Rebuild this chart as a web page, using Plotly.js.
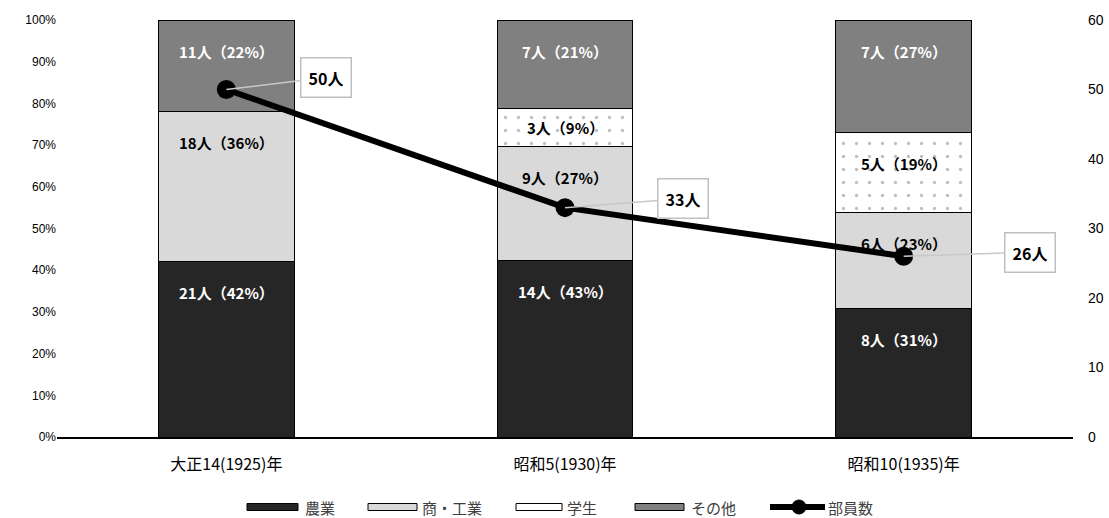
<!DOCTYPE html>
<html>
<head>
<meta charset="utf-8">
<script src="https://cdn.plot.ly/plotly-3.0.1.min.js"></script>
<style>html,body{margin:0;padding:0;background:#fff;}#chart{width:1109px;height:518px;}</style>
</head>
<body>
<div id="chart"></div>
<script>
const categories = ['大正14(1925)年', '昭和5(1930)年', '昭和10(1935)年'];
const seriesNames = ['農業', '商・工業', '学生', 'その他'];
const farming = [21, 14, 8];
const commerce = [18, 9, 6];
const students = [0, 3, 5];
const others = [11, 7, 7];
const farmingPctLabel = [42, 43, 31];
const commercePctLabel = [36, 27, 23];
const studentsPctLabel = [0, 9, 19];
const othersPctLabel = [22, 21, 27];
const members = [50, 33, 26];
const leftTicks = [0, 10, 20, 30, 40, 50, 60, 70, 80, 90, 100];
const rightTicks = [0, 10, 20, 30, 40, 50, 60];

const counts = [farming, commerce, students, others];
const pctLabels = [farmingPctLabel, commercePctLabel, studentsPctLabel, othersPctLabel];
const pct = counts.map(arr => arr.map((v, i) => v / members[i] * 100));
const fillColors = ['#262626', '#d9d9d9', '#ffffff', '#808080'];
const labelColors = ['#ffffff', '#000000', '#000000', '#ffffff'];
const CJK = 'Noto Sans CJK JP';

const M = {l: 57, r: 36, t: 20, b: 81};
const W = 1109, H = 518;
const pw = W - M.l - M.r, ph = H - M.t - M.b;
const px2x = px => (px - M.l) / pw;
const py2y = py => (H - M.b - py) / ph;

const traces = counts.map((arr, k) => {
  const marker = {color: fillColors[k], line: {color: '#000000', width: 1}};
  if (k === 2) {
    marker.pattern = {shape: '.', fgcolor: '#808080', bgcolor: '#ffffff', size: 13, solidity: 0.05, fillmode: 'overlay'};
  }
  return {
    type: 'bar', name: seriesNames[k], x: categories, y: pct[k],
    marker: marker, hoverinfo: 'skip', yaxis: 'y', showlegend: false
  };
});
traces.push({
  type: 'scatter', mode: 'lines+markers', name: '部員数', x: categories, y: members,
  yaxis: 'y2', line: {color: '#000000', width: 6}, marker: {color: '#000000', size: 19},
  hoverinfo: 'skip', showlegend: false
});

const annotations = [];
const shapes = [];
const pxPerPct = ph / 100;
categories.forEach((c, i) => {
  let cum = 0;
  counts.forEach((arr, k) => {
    const p = pct[k][i];
    cum += p;
    if (arr[i] === 0) return;
    const segPx = p * pxPerPct;
    const shift = -Math.min(31, segPx / 2);
    annotations.push({
      x: c, y: cum, xref: 'x', yref: 'y', yanchor: 'middle', yshift: shift,
      text: arr[i] + '人（' + pctLabels[k][i] + '%）', showarrow: false,
      font: {family: CJK, size: 15, color: labelColors[k], weight: 'bold'}
    });
  });
});
const calloutOffsets = [[100, -12], [118, -9], [126, -4]];
categories.forEach((c, i) => {
  annotations.push({
    x: c, y: members[i], xref: 'x', yref: 'y2', text: members[i] + '人',
    showarrow: true, arrowhead: 0, arrowwidth: 1.5, arrowcolor: '#c8c8c8', standoff: 0,
    ax: calloutOffsets[i][0], ay: calloutOffsets[i][1],
    bgcolor: '#ffffff', bordercolor: '#bfbfbf', borderwidth: 1.5, borderpad: 7,
    font: {family: CJK, size: 16, color: '#000000', weight: 'bold'}
  });
});

// custom legend (wide swatches like the original)
const legendY = 507;
const legendItems = [
  {x0: 247, x1: 298, tx: 304, k: 0},
  {x0: 368, x1: 417, tx: 421, k: 1},
  {x0: 516, x1: 562, tx: 566, k: 2},
  {x0: 635, x1: 684, tx: 690, k: 3}
];
legendItems.forEach(it => {
  shapes.push({type: 'rect', xref: 'paper', yref: 'paper',
    x0: px2x(it.x0), x1: px2x(it.x1), y0: py2y(legendY + 3.5), y1: py2y(legendY - 3.5),
    fillcolor: fillColors[it.k], line: {color: '#000000', width: 1}});
  annotations.push({xref: 'paper', yref: 'paper', x: px2x(it.tx), y: py2y(legendY),
    xanchor: 'left', yanchor: 'middle', showarrow: false, text: seriesNames[it.k], borderpad: 0,
    font: {family: CJK, size: 15, color: '#404040'}});
});
shapes.push({type: 'line', xref: 'paper', yref: 'paper',
  x0: px2x(770), x1: px2x(825), y0: py2y(legendY), y1: py2y(legendY),
  line: {color: '#000000', width: 6}});
shapes.push({type: 'circle', xref: 'paper', yref: 'paper',
  x0: px2x(792), x1: px2x(806), y0: py2y(legendY + 7), y1: py2y(legendY - 7),
  fillcolor: '#000000', line: {color: '#000000', width: 1}});
annotations.push({xref: 'paper', yref: 'paper', x: px2x(827), y: py2y(legendY),
  xanchor: 'left', yanchor: 'middle', showarrow: false, text: '部員数', borderpad: 0,
  font: {family: CJK, size: 15, color: '#404040'}});

const layout = {
  width: W, height: H,
  margin: M,
  paper_bgcolor: '#ffffff', plot_bgcolor: '#ffffff',
  font: {family: CJK, color: '#000000'},
  barmode: 'stack', bargap: 0.6,
  showlegend: false,
  xaxis: {type: 'category', range: [-0.5, 2.5], showline: true, linecolor: '#000000', linewidth: 2,
    ticks: '', showgrid: false, ticklabelstandoff: 12, tickfont: {family: CJK, size: 16, color: '#000000'}},
  yaxis: {range: [0, 100], tickvals: leftTicks, ticktext: leftTicks.map(v => v + '%'),
    showgrid: false, zeroline: false, showline: false, ticks: '',
    tickfont: {family: 'Liberation Sans, Arial', size: 12, color: '#000000'}},
  yaxis2: {range: [0, 60], tickvals: rightTicks, overlaying: 'y', side: 'right',
    showgrid: false, zeroline: false, showline: false, ticks: '', ticklabelstandoff: 14,
    tickfont: {family: 'Liberation Sans, Arial', size: 14, color: '#000000'}},
  shapes: shapes,
  annotations: annotations
};

Plotly.newPlot('chart', traces, layout, {displayModeBar: false, staticPlot: true});
</script>
</body>
</html>
